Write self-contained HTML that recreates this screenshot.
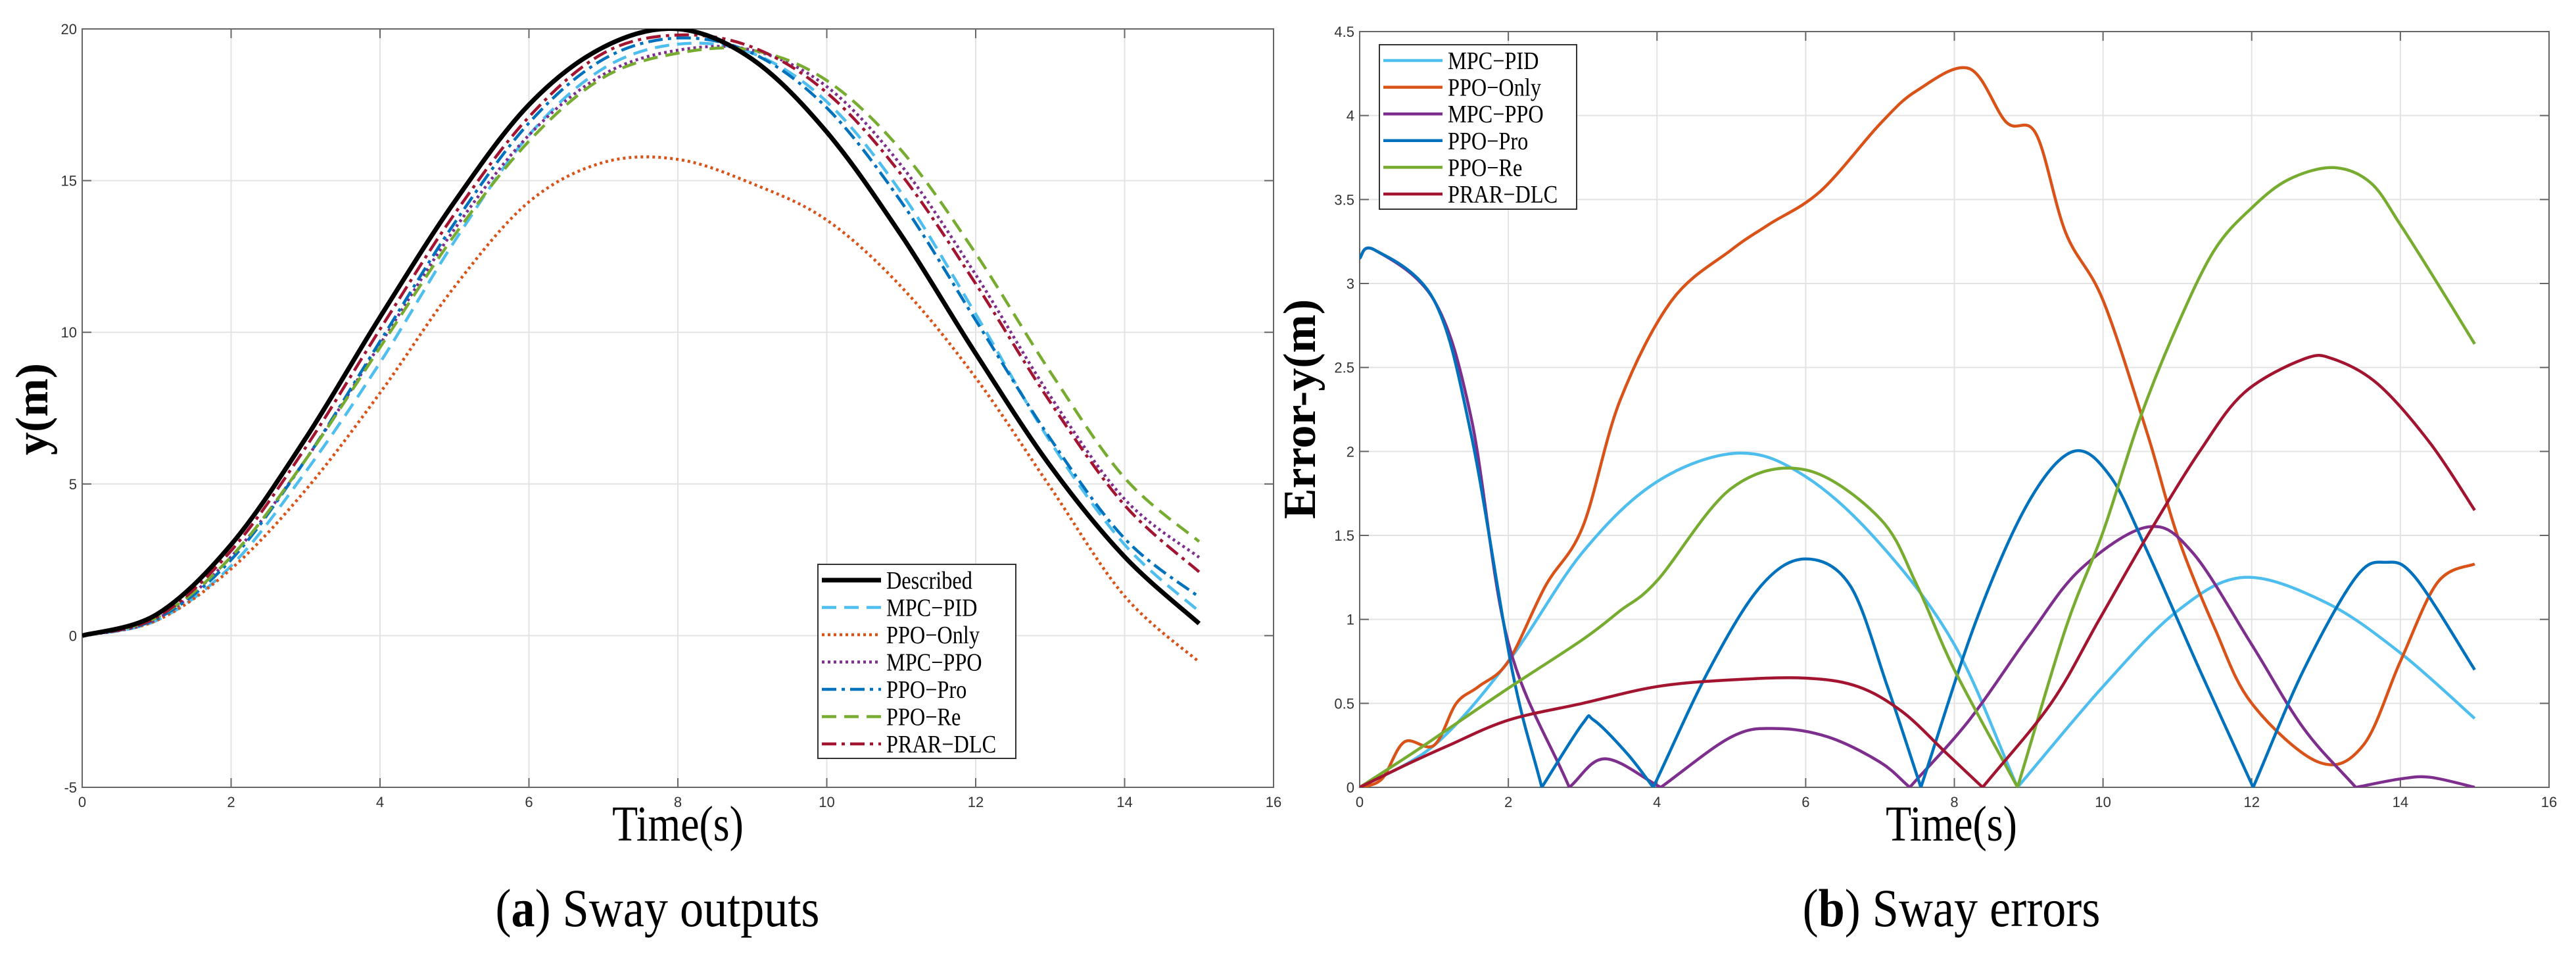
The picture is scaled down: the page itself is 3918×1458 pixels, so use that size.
<!DOCTYPE html>
<html><head><meta charset="utf-8"><style>
html,body{margin:0;padding:0;background:#fff;}
svg{display:block;}
text{font-family:"Liberation Serif",serif;}
.tick{font-family:"Liberation Sans",sans-serif;font-size:22px;fill:#333;}
</style></head><body>
<svg id="fig" width="3918" height="1458" viewBox="0 0 3918 1458" xmlns="http://www.w3.org/2000/svg">
<defs>
<clipPath id="clipA"><rect x="125" y="44" width="1812" height="1153"/></clipPath>
<clipPath id="clipB"><rect x="2068" y="48" width="1809" height="1149"/></clipPath>
</defs>
<g id="panelA"></g>
<g id="panelB"></g>
<text x="1031" y="1278" text-anchor="middle" font-size="76" transform="translate(1031 0) scale(0.84 1) translate(-1031 0)">Time(s)</text>
<text x="2968" y="1278" text-anchor="middle" font-size="76" transform="translate(2968 0) scale(0.84 1) translate(-2968 0)">Time(s)</text>
<text transform="translate(72 622) rotate(-90)" text-anchor="middle" font-size="70" font-weight="bold">y(m)</text>
<text transform="translate(2000 622) rotate(-90)" text-anchor="middle" font-size="70" font-weight="bold">Error-y(m)</text>
<text x="1000" y="1408" text-anchor="middle" font-size="82" transform="translate(1000 0) scale(0.88 1) translate(-1000 0)">(<tspan font-weight="bold">a</tspan>) Sway outputs</text>
<text x="2968" y="1408" text-anchor="middle" font-size="82" transform="translate(2968 0) scale(0.88 1) translate(-2968 0)">(<tspan font-weight="bold">b</tspan>) Sway errors</text>
</svg>
<script>
// ---- Panel A data (sway outputs) ----
const timeA = [0,1,2,3,4,5,6,7,8,9,10,11,12,13,14,15];
const described = [0,0.7,3.0,6.5,10.5,14.3,17.5,19.4,20.0,19.0,16.6,13.2,9.3,5.6,2.6,0.4];
const mpcPidOut = [0,0.5,2.3,5.4,9.0,13.0,16.5,18.7,19.5,19.2,17.6,14.6,10.6,6.4,3.0,0.8];
const ppoOnlyOut = [0,0.5,2.2,4.8,8.0,11.5,14.3,15.6,15.7,14.9,13.7,11.5,8.5,4.9,1.3,-0.87];
const mpcPpoOut = [0,0.55,2.6,5.8,9.6,13.4,16.5,18.5,19.3,19.3,18.1,15.5,11.9,7.9,4.5,2.58];
const ppoProOut = [0,0.55,2.5,5.8,9.7,13.6,16.9,19.0,19.7,19.2,17.4,14.3,10.4,6.5,3.2,1.27];
const ppoReOut = [0,0.6,2.6,5.8,9.5,13.2,16.3,18.4,19.2,19.3,18.3,16.0,12.6,8.7,5.2,3.1];
const prarOut = [0,0.6,2.8,6.2,10.1,13.9,17.1,19.2,19.8,19.4,17.9,15.2,11.6,7.7,4.3,2.1];
const xTicksA = [0,2,4,6,8,10,12,14,16];
const yTicksA = [-5,0,5,10,15,20];
// ---- Panel B data (sway errors) ----
const tMpcPid = [0,1,2,3,4,5.1,6,7,8,8.85,10,11,11.9,13,14,15];
const eMpcPid = [0,0.25,0.75,1.4,1.82,1.99,1.85,1.45,0.85,0,0.6,1.05,1.25,1.1,0.8,0.41];
const tPpoOnly = [0,0.3,0.6,1.0,1.3,1.6,2,2.5,3,3.5,4.2,5,5.5,6.2,7,7.5,8.2,8.7,9.1,9.5,10,10.6,11,11.5,12,12.9,13.5,14,14.5,15];
const ePpoOnly = [0,0.05,0.27,0.25,0.5,0.6,0.75,1.2,1.55,2.3,2.9,3.2,3.35,3.55,3.95,4.15,4.28,3.96,3.89,3.3,2.9,2.1,1.5,0.95,0.5,0.15,0.25,0.75,1.22,1.33];
const tMpcPpo = [0,0.2,1,1.5,2,2.82,3.3,4.05,5,5.6,6.3,7,7.4,8.2,9,9.7,10.6,11.2,12,12.7,13.4,14,14.4,15];
const eMpcPpo = [3.15,3.2,2.9,2.2,0.86,0,0.17,0,0.3,0.35,0.3,0.15,0,0.4,0.9,1.3,1.55,1.4,0.85,0.35,0,0.05,0.06,0];
const tPpoPro = [0,0.2,1,1.5,2.05,2.45,3,3.15,3.6,3.95,4.7,5.4,6,6.6,7.1,7.55,8.3,9,9.6,10.1,10.6,11.3,12.02,12.7,13.4,13.8,14.2,15];
const ePpoPro = [3.15,3.2,2.9,2.1,0.7,0,0.38,0.4,0.2,0,0.7,1.2,1.36,1.2,0.6,0,1.0,1.7,2.0,1.85,1.4,0.7,0,0.7,1.25,1.34,1.25,0.7];
const tPpoRe = [0,0.7,1.2,2,3,3.5,4,5,6,7,7.5,8,8.85,9.5,10,10.5,11,11.5,12,12.5,13.1,13.6,14,14.5,15];
const ePpoRe = [0,0.2,0.35,0.59,0.88,1.05,1.23,1.78,1.89,1.6,1.2,0.7,0,0.95,1.52,2.2,2.75,3.2,3.45,3.62,3.69,3.6,3.35,3.0,2.64];
const tPrar = [0,0.7,1.2,2,3,4,5,6,6.7,7.3,7.9,8.38,9.3,9.95,10.6,11.3,11.9,12.7,13.1,13.7,14.4,15];
const ePrar = [0,0.15,0.25,0.4,0.5,0.6,0.64,0.65,0.6,0.45,0.2,0,0.5,1.0,1.5,2.0,2.35,2.55,2.55,2.4,2.05,1.65];
const xTicksB = [0,2,4,6,8,10,12,14,16];
const yTicksB = [0,0.5,1,1.5,2,2.5,3,3.5,4,4.5];

const NS = 'http://www.w3.org/2000/svg';
function mk(tag, attrs, parent){const e=document.createElementNS(NS,tag);for(const k in attrs)e.setAttribute(k,attrs[k]);parent.appendChild(e);return e;}

function makeAxes(g, L, R, T, B, xmin, xmax, ymin, ymax, xt, yt, prefix){
  const sx = v => L + (v - xmin) / (xmax - xmin) * (R - L);
  const sy = v => B - (v - ymin) / (ymax - ymin) * (B - T);
  mk('rect',{x:L,y:T,width:R-L,height:B-T,fill:'#fff'},g);
  xt.forEach(v=>{
    const l=mk('line',{x1:sx(v),x2:sx(v),y1:T,y2:B,stroke:'#e3e3e3','stroke-width':2},g);
    
    
    mk('line',{x1:sx(v),x2:sx(v),y1:B,y2:B-14,stroke:'#666','stroke-width':2},g);
    mk('line',{x1:sx(v),x2:sx(v),y1:T,y2:T+14,stroke:'#666','stroke-width':2},g);
    const t=mk('text',{x:sx(v),y:B+30,'text-anchor':'middle',class:'tick'},g);
    t.textContent=v;
    
    
  });
  yt.forEach(v=>{
    const l=mk('line',{x1:L,x2:R,y1:sy(v),y2:sy(v),stroke:'#e3e3e3','stroke-width':2},g);
    
    
    mk('line',{x1:L,x2:L+14,y1:sy(v),y2:sy(v),stroke:'#666','stroke-width':2},g);
    mk('line',{x1:R,x2:R-14,y1:sy(v),y2:sy(v),stroke:'#666','stroke-width':2},g);
    const t=mk('text',{x:L-8,y:sy(v)+8,'text-anchor':'end',class:'tick'},g);
    t.textContent=v;
    
    
  });
  const box=mk('rect',{x:L,y:T,width:R-L,height:B-T,fill:'none',stroke:'#666','stroke-width':2},g);
  
  
  return {sx,sy};
}

// Smooth path; interior zero values are treated as sharp cusps (one-sided tangents)
function smoothPath(xs, ys, sx, sy, cusps){
  const n = xs.length;
  const P = xs.map((x,i)=>[sx(x), sy(ys[i])]);
  const isCusp = i => cusps && i>0 && i<n-1 && ys[i]===0;
  let d = 'M'+P[0][0].toFixed(1)+' '+P[0][1].toFixed(1);
  const k=1/6;
  for(let i=0;i<n-1;i++){
    const p1=P[i], p2=P[i+1];
    let p0=P[i-1]||P[i], p3=P[i+2]||P[i+1];
    if(isCusp(i)) p0=P[i];
    if(isCusp(i+1)) p3=P[i+1];
    let c1=[p1[0]+(p2[0]-p0[0])*k, p1[1]+(p2[1]-p0[1])*k];
    let c2=[p2[0]-(p3[0]-p1[0])*k, p2[1]-(p3[1]-p1[1])*k];
    if(isCusp(i)) c1=[p1[0]+(p2[0]-p1[0])*0.33, p1[1]+(p2[1]-p1[1])*0.33];
    if(isCusp(i+1)) c2=[p2[0]-(p2[0]-p1[0])*0.33, p2[1]-(p2[1]-p1[1])*0.33];
    d+=' C'+c1[0].toFixed(1)+' '+c1[1].toFixed(1)+' '+c2[0].toFixed(1)+' '+c2[1].toFixed(1)+' '+p2[0].toFixed(1)+' '+p2[1].toFixed(1);
  }
  return d;
}

// Panel A
const gA = document.getElementById('panelA');
const axA = makeAxes(gA,125,1937,44,1197,0,16,-5,20,xTicksA,yTicksA,'a-');
const seriesA = [
  {name:'Described', ys:described, c:'#000', w:7, dash:''},
  {name:'MPC\u2212PID', ys:mpcPidOut, c:'#4DBEEE', w:4.5, dash:'22 12'},
  {name:'PPO\u2212Only', ys:ppoOnlyOut, c:'#D95319', w:4.5, dash:'4 5'},
  {name:'MPC\u2212PPO', ys:mpcPpoOut, c:'#7E2F8E', w:4.5, dash:'4 5'},
  {name:'PPO\u2212Pro', ys:ppoProOut, c:'#0072BD', w:4.5, dash:'22 8 5 8'},
  {name:'PPO\u2212Re', ys:ppoReOut, c:'#77AC30', w:4.5, dash:'22 12'},
  {name:'PRAR\u2212DLC', ys:prarOut, c:'#A2142F', w:4.5, dash:'22 8 5 8'}
];
const clipGA = mk('g',{'clip-path':'url(#clipA)'},gA);
[1,2,3,4,5,6,0].forEach(i=>{
  const s=seriesA[i];
  const p=mk('path',{d:smoothPath(timeA,s.ys,axA.sx,axA.sy,false),fill:'none',stroke:s.c,'stroke-width':s.w,'stroke-dasharray':s.dash},clipGA);
  
  
});
const legA = mk('g',{},gA);


mk('rect',{x:1244,y:858,width:301,height:295,fill:'#fff',stroke:'#333','stroke-width':2},legA);
seriesA.forEach((s,i)=>{
  const y=882+i*41.5;
  mk('line',{x1:1250,x2:1340,y1:y,y2:y,stroke:s.c,'stroke-width':s.w,'stroke-dasharray':s.dash},legA);
  const t=mk('text',{x:1348,y:y+13,'font-size':38,transform:`translate(1348 0) scale(0.85 1) translate(-1348 0)`},legA);
  t.textContent=s.name;
  
  
});

// Panel B
const gB = document.getElementById('panelB');
const axB = makeAxes(gB,2068,3877,48,1197,0,16,0,4.5,xTicksB,yTicksB,'b-');
const seriesB = [
  {name:'MPC\u2212PID', xs:tMpcPid, ys:eMpcPid, c:'#4DBEEE'},
  {name:'PPO\u2212Only', xs:tPpoOnly, ys:ePpoOnly, c:'#D95319'},
  {name:'MPC\u2212PPO', xs:tMpcPpo, ys:eMpcPpo, c:'#7E2F8E'},
  {name:'PPO\u2212Pro', xs:tPpoPro, ys:ePpoPro, c:'#0072BD'},
  {name:'PPO\u2212Re', xs:tPpoRe, ys:ePpoRe, c:'#77AC30'},
  {name:'PRAR\u2212DLC', xs:tPrar, ys:ePrar, c:'#A2142F'}
];
const clipGB = mk('g',{'clip-path':'url(#clipB)'},gB);
seriesB.forEach(s=>{
  const p=mk('path',{d:smoothPath(s.xs,s.ys,axB.sx,axB.sy,true),fill:'none',stroke:s.c,'stroke-width':4.5,'stroke-linejoin':'round'},clipGB);
  
  
});
const legB = mk('g',{},gB);


mk('rect',{x:2098,y:68,width:300,height:250,fill:'#fff',stroke:'#333','stroke-width':2},legB);
seriesB.forEach((s,i)=>{
  const y=92+i*40.6;
  mk('line',{x1:2104,x2:2194,y1:y,y2:y,stroke:s.c,'stroke-width':4.5},legB);
  const t=mk('text',{x:2202,y:y+13,'font-size':38,transform:`translate(2202 0) scale(0.85 1) translate(-2202 0)`},legB);
  t.textContent=s.name;
  
  
});
</script>
</body></html>
